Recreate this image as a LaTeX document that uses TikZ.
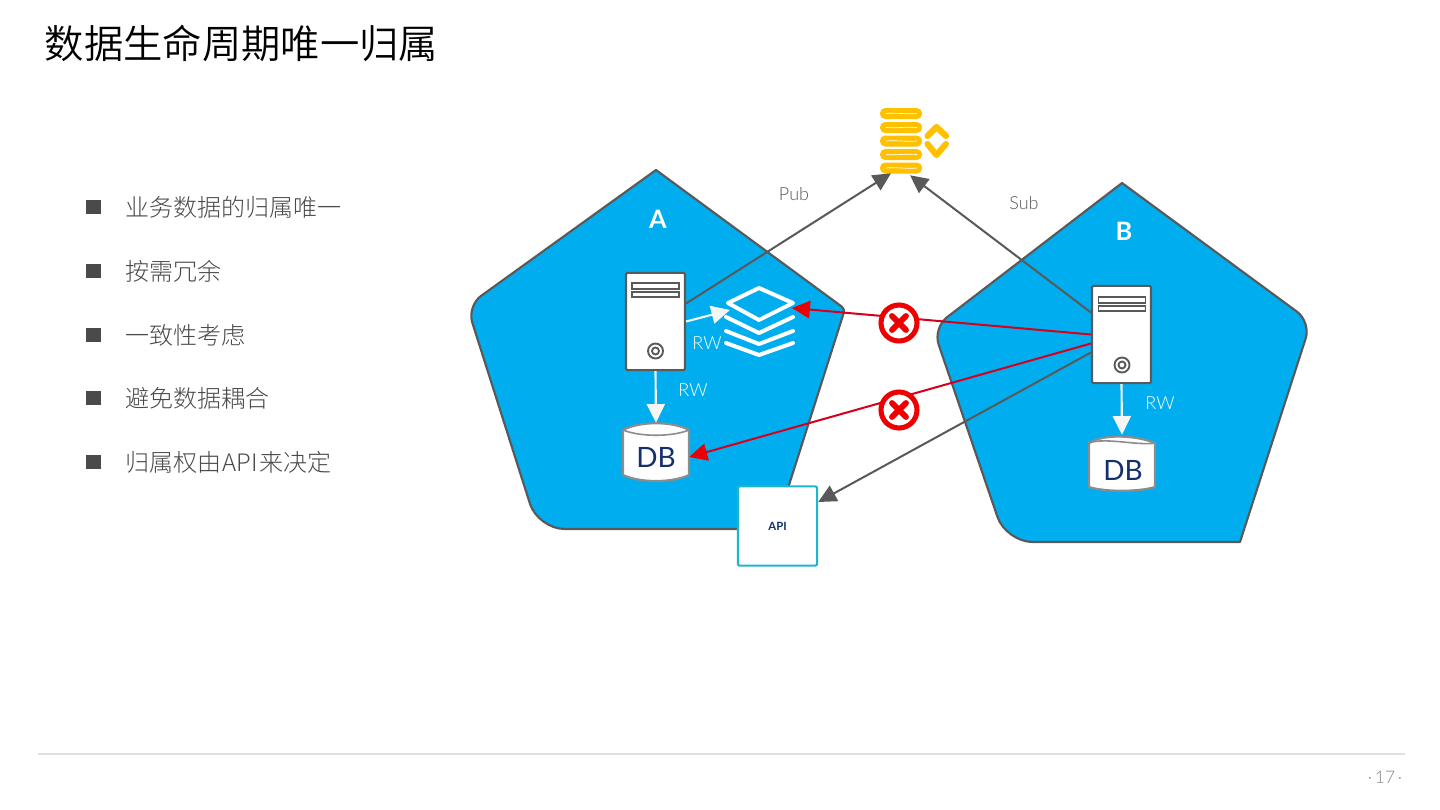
\documentclass[tikz,border=0pt]{standalone}
\usepackage{fontspec}
\setmainfont{Lato}
\newfontfamily\cjk{Noto Sans CJK SC Light}
\newfontfamily\cjktitle{Noto Sans CJK SC DemiLight}
\newfontfamily\latl{Lato Light}
\usetikzlibrary{arrows.meta}
\definecolor{panelblue}{HTML}{00AEEF}
\definecolor{edgegray}{HTML}{595959}
\definecolor{navy}{HTML}{14306B}
\definecolor{qyellow}{HTML}{FFC000}
\definecolor{redline}{HTML}{D4001E}
\definecolor{crossred}{HTML}{EE0000}
\definecolor{tealbox}{HTML}{1FB6CC}
\definecolor{bodygray}{HTML}{4A4A4A}
\tikzset{
  x=0.75pt,y=-0.75pt,
  panel/.style={fill=panelblue,draw=edgegray,line width=1.6pt,line join=round},
  srv/.style={draw=edgegray,fill=white,line width=1.6pt,rounded corners=1pt,minimum width=44.25pt,minimum height=73pt,inner sep=0pt},
  slot/.style={draw=edgegray,fill=white,line width=1.3pt},
  dbshape/.style={draw=gray!90,fill=white,line width=1.6pt},
  dbtext/.style={text=navy,font=\fontsize{21}{22}\selectfont,inner sep=0pt,minimum width=48pt,minimum height=38pt},
  conn/.style={draw=edgegray,line width=1.5pt,-{Triangle[length=13.5pt,width=13pt]}},
  redconn/.style={draw=redline,line width=1.5pt,-{Triangle[length=13.5pt,width=13pt,color=crossred!85!redline]}},
  rwconn/.style={draw=white!92!gray,line width=1.6pt,-{Triangle[length=14pt,width=13.5pt]}},
  lbl/.style={text=edgegray,font=\latl\fontsize{13.5}{15}\selectfont,inner sep=0pt},
  rwlbl/.style={text=white,font=\latl\fontsize{13.5}{15}\selectfont,inner sep=0pt},
  bullet/.style={fill=bodygray,minimum size=11pt,inner sep=0pt},
  bullettext/.style={anchor=west,text=bodygray,font=\cjk\fontsize{18}{20}\selectfont,inner sep=0pt},
  qbar/.style={fill=qyellow,rounded corners=3.8pt},
  qline/.style={draw=white,line width=0.5pt},
  chev/.style={draw=qyellow,line width=4.6pt,line cap=round,line join=round},
  stackline/.style={draw=white,line width=3pt,line cap=round,line join=round},
  crossring/.style={circle,draw=crossred,fill=white,line width=3.8pt,minimum size=27pt,inner sep=0pt},
  crossx/.style={draw=crossred,line width=4.4pt,line cap=round},
}
\begin{document}
\begin{tikzpicture}
\useasboundingbox (0,0) rectangle (1440,810);
\fill[white] (0,0) rectangle (1440,810);
% title
\node[anchor=west,inner sep=0pt,text=black,font=\cjktitle\fontsize{29.5}{32}\selectfont] (title) at (44.5,43) {数据生命周期唯一归属};
% bullets
\foreach \n/\y/\t in {1/207/业务数据的归属唯一,2/271/按需冗余,3/335/一致性考虑,4/398/避免数据耦合,5/462/归属权由\kern1pt API\kern1pt 来决定}{
  \node[bullet] (b\n) at (93.5,\y) {};
  \node[bullettext] (t\n) at (125,\y) {\t};
}
% pentagons
\path[panel] (656,170) [rounded corners=13pt] -- (467,306) [rounded corners=20pt] -- (538,529) [rounded corners=0pt] -- (775,529) [rounded corners=3pt] -- (845,309) [rounded corners=0pt] -- cycle;
\path[panel] (1122,183) [rounded corners=13pt] -- (933,328) [rounded corners=20pt] -- (1006,542) [rounded corners=0pt] -- (1240,542) [rounded corners=13pt] -- (1311,322) [rounded corners=0pt] -- cycle;
% queue
\foreach \a/\b/\w in {108/119/1,122/133/-1,135.5/146.5/1,149/160/-1,162.5/173.5/1}{
  \path[qbar] (880,\a) rectangle (922,\b);
  \draw[qline] (886,{(\a+\b)/2}) .. controls (896,{(\a+\b)/2-\w}) and (906,{(\a+\b)/2+\w}) .. (917,{(\a+\b)/2});
}
\node[inner sep=0pt,minimum width=31.5pt,minimum height=48pt] (queue) at (901,141) {};
\draw[chev] (927.5,136) -- (936.5,127) -- (946,136);
\draw[chev] (927.5,144) -- (936.5,155) -- (946,144);
% stack
\node[inner sep=0pt,minimum width=49pt,minimum height=32pt] (stack) at (760,320) {};
\draw[stackline] (728,303) -- (759,288) -- (793,303) -- (759,320) -- cycle;
\draw[stackline] (726,317) -- (759,333) -- (793,317);
\draw[stackline] (726,331) -- (759,344) -- (793,331);
\draw[stackline] (726,343) -- (759,355) -- (793,343);
% servers
\node[srv] (srvA) at (655.5,321.5) {};
\node[srv] (srvB) at (1121.5,334.5) {};
\foreach \s/\x/\y in {A/655.5/272,B/1122/286}{
  \draw[slot] (\x-23.5,\y+11) rectangle (\x+23.5,\y+17);
  \draw[slot] (\x-23.5,\y+20) rectangle (\x+23.5,\y+25);
  \draw[edgegray,line width=1.4pt] (\x,\y+79) circle[radius=7.5];
  \draw[edgegray,line width=1.4pt] (\x,\y+79) circle[radius=3.5];
}
% databases
\node[inner sep=0pt,minimum width=49.5pt,minimum height=42.75pt] (dbAbox) at (656,451.5) {};
\path[dbshape] (623,430) .. controls (640,421) and (672,421) .. (689,430) -- (689,475) .. controls (672,483) and (640,483) .. (623,475) -- cycle;
\draw[gray!90,line width=1.2pt] (623,430) .. controls (640,437) and (672,437) .. (689,430);
\node[dbtext] (dbA) at (656,457) {DB};
\node[inner sep=0pt,minimum width=49.5pt,minimum height=41.25pt] (dbBbox) at (1122,462.5) {};
\path[dbshape] (1089,443) .. controls (1105,433) and (1138,436) .. (1155,443) -- (1155,487) .. controls (1138,492) and (1105,492) .. (1089,487) -- cycle;
\draw[gray!90,line width=1.2pt] (1089,443) .. controls (1105,437) and (1138,446) .. (1155,443);
\node[dbtext] (dbB) at (1123,470) {DB};
% api
\node[draw=tealbox,fill=white,line width=1.6pt,rounded corners=1.5pt,minimum size=59.5pt,inner sep=0pt,text=navy,font=\bfseries\fontsize{8.5}{10}\selectfont] (api) at (777.5,526) {API};
% connectors
\draw[conn] ([shift={(0,-18)}]srvA.east) -- ([shift={(-10,0)}]queue.south);
\draw[conn] ([shift={(0,-22)}]srvB.west) -- ([shift={(9,2)}]queue.south);
\draw[rwconn] ([shift={(0,0)}]srvA.east) -- ([shift={(3,-10)}]stack.west);
\draw[rwconn] (srvA.south) -- (dbAbox.north);
\draw[rwconn] (srvB.south) -- (dbBbox.north);
\draw[conn] ([shift={(0,18)}]srvB.west) -- ([shift={(0,-24)}]api.east);
\draw[redconn] (srvB.west) -- ([shift={(-1,-12)}]stack.east);
\draw[redconn] ([shift={(0,9)}]srvB.west) -- ([shift={(0,5.5)}]dbAbox.east);
% crosses
\foreach \n/\y in {1/323,2/410}{
  \node[crossring] (x\n) at (899,\y) {};
  \draw[crossx] (892,\y-7) -- (906,\y+7);
  \draw[crossx] (906,\y-7) -- (892,\y+7);
}
% labels
\node[text=white,font=\bfseries\fontsize{19}{20}\selectfont,inner sep=0pt] (la) at (658,219) {A};
\node[text=white,font=\bfseries\fontsize{19}{20}\selectfont,inner sep=0pt] (lb) at (1124,231) {B};
\node[lbl] (pub) at (794,194) {Pub};
\node[lbl] (sub) at (1024,203) {Sub};
\node[rwlbl] (rw1) at (707,343) {RW};
\node[rwlbl] (rw2) at (693,390) {RW};
\node[rwlbl] (rw3) at (1160,403) {RW};
% footer
\draw[black!12,line width=0.8pt] (38,754) -- (1405,754);
\node[text=gray,font=\latl\fontsize{13}{14}\selectfont,inner sep=0pt] (pg) at (1385,777) {·\,17\,·};
\end{tikzpicture}
\end{document}
